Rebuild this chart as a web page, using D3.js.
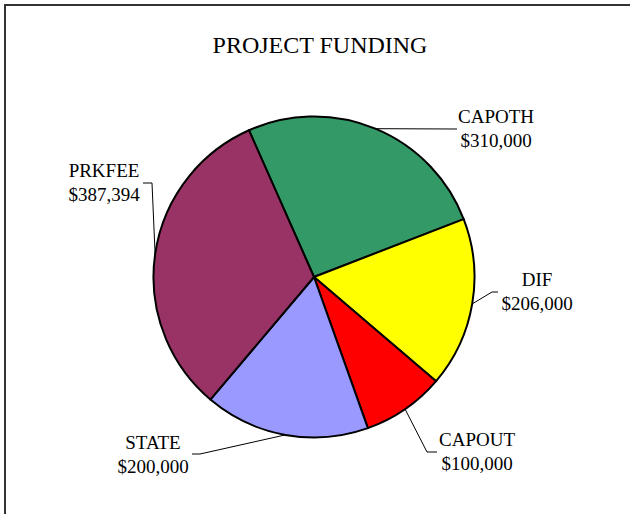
<!DOCTYPE html>
<html>
<head>
<meta charset="utf-8">
<script src="https://cdn.jsdelivr.net/npm/d3@7"></script>
<style>
  body { margin: 0; background: #fff; }
  text { font-family: "Liberation Serif", "Times New Roman", serif; fill: #000; }
</style>
</head>
<body>
<div id="chart"></div>
<script>
// data
var categories = ["CAPOTH", "DIF", "CAPOUT", "STATE", "PRKFEE"];
var values = [310000, 206000, 100000, 200000, 387394];
var valueLabels = ["$310,000", "$206,000", "$100,000", "$200,000", "$387,394"];
var colors = ["#339966", "#ffff00", "#ff0000", "#9999ff", "#993366"];

var svgWidth = 630;
var svgHeight = 514;

var svg = d3.select("#chart")
  .append("svg")
  .attr("width", svgWidth)
  .attr("height", svgHeight);

// chart area border (only top and left visible)
svg.append("path")
  .attr("d", "M5,514 V5 H630")
  .attr("fill", "none")
  .attr("stroke", "#333")
  .attr("stroke-width", 2);

svg.append("text")
  .attr("x", 320)
  .attr("y", 53)
  .attr("text-anchor", "middle")
  .attr("font-size", 24)
  .text("PROJECT FUNDING");

var cx = 314, cy = 277, radius = 160.5;
var start = -23.9 * Math.PI / 180;

var pie = d3.pie()
  .sort(null)
  .startAngle(start)
  .endAngle(start + 2 * Math.PI)
  .value(d => d);

var arcs = pie(values);

var arc = d3.arc().innerRadius(0).outerRadius(radius);

var pieGroup = svg.append("g")
  .attr("transform", `translate(${cx}, ${cy})`);

pieGroup.selectAll("path")
  .data(arcs)
  .enter()
  .append("path")
  .attr("d", arc)
  .attr("fill", (d, i) => colors[i])
  .attr("stroke", "#000")
  .attr("stroke-width", 2)
  .attr("stroke-linejoin", "round");

// label layout: elbow point, line end, text centre and first baseline
var labelLayout = [
  { elbow: [457, 129], end: [457, 129], tx: 496, ty: 123 },
  { elbow: [492, 292], end: [498, 292], tx: 537, ty: 286 },
  { elbow: [427, 452], end: [437, 452], tx: 477, ty: 446 },
  { elbow: [200, 454], end: [192, 454], tx: 153, ty: 449 },
  { elbow: [152, 183], end: [143, 183], tx: 104, ty: 177 }
];

arcs.forEach(function(d, i) {
  var mid = (d.startAngle + d.endAngle) / 2;
  var ax = cx + radius * Math.sin(mid);
  var ay = cy - radius * Math.cos(mid);
  var l = labelLayout[i];
  svg.append("polyline")
    .attr("points", [[ax, ay], l.elbow, l.end].map(p => p.join(",")).join(" "))
    .attr("fill", "none")
    .attr("stroke", "#000")
    .attr("stroke-width", 1);
  var t = svg.append("text")
    .attr("x", l.tx)
    .attr("y", l.ty)
    .attr("text-anchor", "middle")
    .attr("font-size", 19);
  t.append("tspan").attr("x", l.tx).text(categories[i]);
  t.append("tspan").attr("x", l.tx).attr("dy", 24).text(valueLabels[i]);
});
</script>
</body>
</html>
